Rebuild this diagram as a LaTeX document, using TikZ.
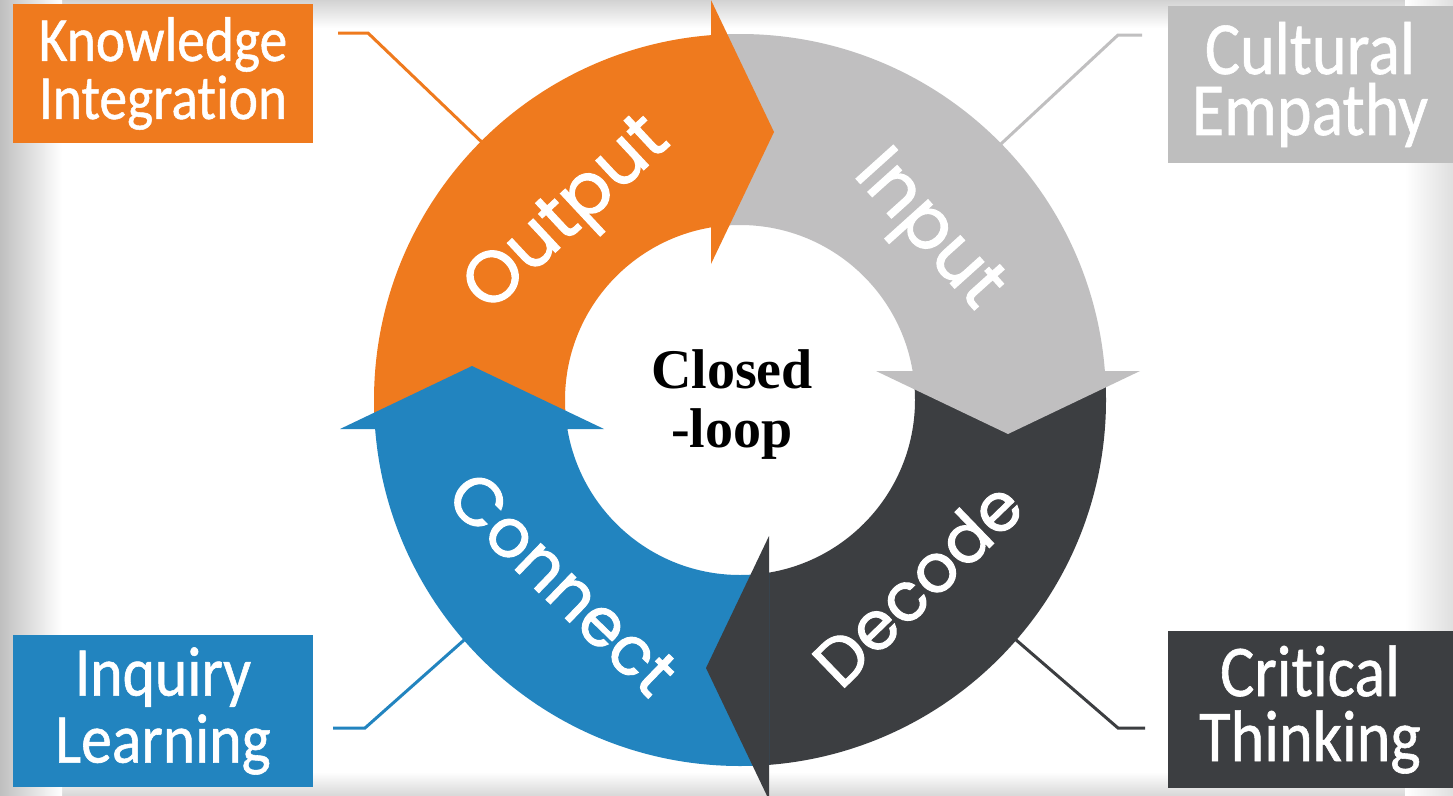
\documentclass[tikz,border=0pt]{standalone}
\usepackage{fontspec}
\newfontfamily\boxfont[FakeStretch=0.88, FakeBold=0.8, Ligatures=NoCommon]{Carlito}
\newfontfamily\ringfont[FakeBold=1.5]{Poppins}
\newfontfamily\loopfont{Liberation Serif}
\definecolor{corange}{RGB}{239,122,30}
\definecolor{cgray}{RGB}{192,191,192}
\definecolor{cgraybox}{RGB}{190,190,190}
\definecolor{cdark}{RGB}{60,62,65}
\definecolor{cblue}{RGB}{34,132,191}
\tikzset{
  labelbox/.style={rectangle, inner sep=0pt, text=white, align=center},
  callout/.style={line width=3pt},
  ringlabel/.style={text=white, inner sep=0pt, font=\ringfont\fontsize{72}{72}\selectfont},
  ringlabelsm/.style={text=white, inner sep=0pt, font=\ringfont\fontsize{67}{67}\selectfont},
}
\begin{document}
\begin{tikzpicture}[x=1pt,y=-1pt]
\useasboundingbox (0,0) rectangle (1453,795);
\fill[white] (0,0) rectangle (1453,795);
% vignette
\shade[top color=gray!35, bottom color=white] (0,0) rectangle (1453,28);
\shade[top color=white, bottom color=gray!30] (0,772) rectangle (1453,795);
\shade[left color=gray!50, right color=white] (0,0) rectangle (62,795);
\shade[left color=white, right color=gray!25] (1405,0) rectangle (1453,795);

% boxes
\node[labelbox, fill=corange, minimum width=300, minimum height=139,
      font=\boxfont\fontsize{63}{58}\selectfont] (ki) at (163,73.5) {Knowledge\\Integration};
\node[labelbox, fill=cgraybox, minimum width=285, minimum height=157,
      font=\boxfont\fontsize{75}{61}\selectfont] (ce) at (1310,84.5) {Cultural\\Empathy};
\node[labelbox, fill=cblue, minimum width=300, minimum height=152,
      font=\boxfont\fontsize{70}{67}\selectfont] (il) at (163,711) {Inquiry\\Learning};
\node[labelbox, fill=cdark, minimum width=285, minimum height=157,
      font=\boxfont\fontsize{73}{65}\selectfont] (ct) at (1310,709.5) {Critical\\Thinking};

% callout coordinates
\coordinate (ki-a) at (338,33);
\coordinate (ki-b) at (368,33);
\coordinate (ce-a) at (1142,35);
\coordinate (ce-b) at (1118,35);
\coordinate (il-a) at (333,728);
\coordinate (il-b) at (365,728);
\coordinate (ct-a) at (1145,728);
\coordinate (ct-b) at (1118,728);
\begin{scope}[shift={(740,400)}, y=1pt]
  \coordinate (ki-c) at (135:355);
  \coordinate (ce-c) at (44.5:355);
  \coordinate (il-c) at (221:355);
  \coordinate (ct-c) at (-41:355);
\end{scope}
\draw[callout, corange] (ki-a) -- (ki-b) -- (ki-c);
\draw[callout, cgray] (ce-a) -- (ce-b) -- (ce-c);
\draw[callout, cblue] (il-a) -- (il-b) -- (il-c);
\draw[callout, cdark] (ct-a) -- (ct-b) -- (ct-c);

% ring
\begin{scope}[shift={(740,400)}, y=1pt]
  \begin{scope}
    \clip (-420,-29) rectangle (-29,420);
    \fill[corange, even odd rule] (0,0) circle (366) (0,0) circle (175);
  \end{scope}
  \begin{scope}
    \clip (-29,29) rectangle (420,420);
    \fill[cgray, even odd rule] (0,0) circle (366) (0,0) circle (175);
  \end{scope}
  \begin{scope}
    \clip (29,-420) rectangle (420,29);
    \fill[cdark, even odd rule] (0,0) circle (366) (0,0) circle (175);
  \end{scope}
  \begin{scope}
    \clip (-420,-420) rectangle (29,-29);
    \fill[cblue, even odd rule] (0,0) circle (366) (0,0) circle (175);
  \end{scope}
  % arrow heads
  \fill[corange, rotate=90]  (136,29) -- (400,29) -- (268,-34) -- cycle;
  \fill[cgray, rotate=0]     (136,29) -- (400,29) -- (268,-34) -- cycle;
  \fill[cdark, rotate=-90]   (136,29) -- (400,29) -- (268,-34) -- cycle;
  \fill[cblue, rotate=180]   (136,29) -- (400,29) -- (268,-34) -- cycle;
  % ring labels
  \node[ringlabel, rotate=43]    (lout) at (133:250) {Output};
  \node[ringlabel, rotate=-48]   (lin)  at (42:250)  {Input};
  \node[ringlabelsm, rotate=44]  (ldec) at (-46:255) {Decode};
  \node[ringlabelsm, rotate=-44] (lcon) at (226:255) {Connect};
  % centre
  \node[align=center, inner sep=0pt, font=\loopfont\bfseries\fontsize{56}{59}\selectfont] (loop) at (-8,-5) {Closed\\-loop};
\end{scope}
\end{tikzpicture}
\end{document}
